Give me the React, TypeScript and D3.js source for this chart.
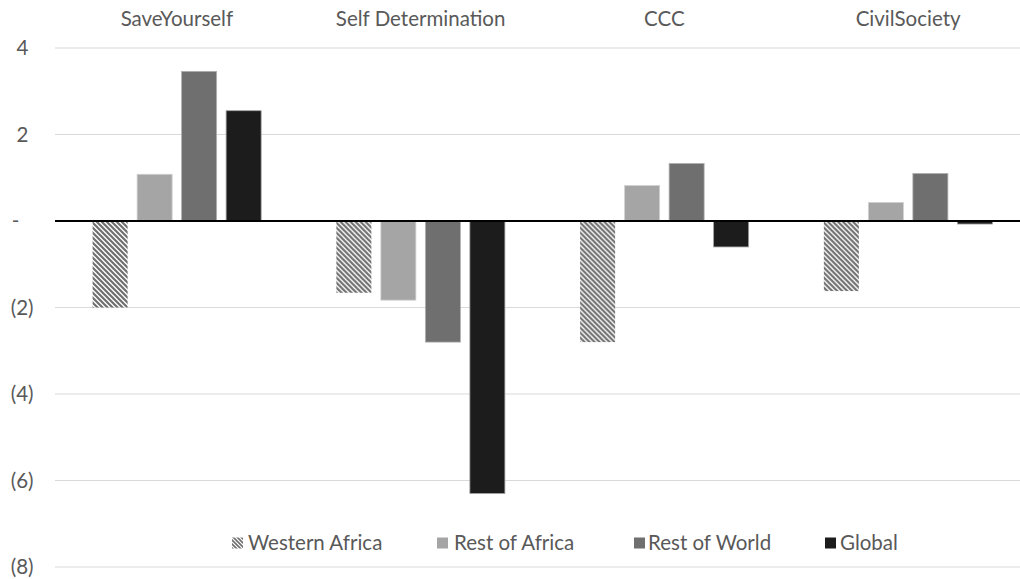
import React from "react";
import * as d3 from "d3";

const categories = ["SaveYourself", "Self Determination", "CCC", "CivilSociety"];
const seriesNames = ["Western Africa", "Rest of Africa", "Rest of World", "Global"];
const westernAfrica = [-2.0, -1.66, -2.8, -1.62];
const restOfAfrica = [1.08, -1.83, 0.82, 0.43];
const restOfWorld = [3.46, -2.8, 1.33, 1.1];
const globalVals = [2.55, -6.3, -0.6, -0.07];
const yTicks = [4, 2, 0, -2, -4, -6, -8];

const seriesValues = [westernAfrica, restOfAfrica, restOfWorld, globalVals];
const fills = ["url(#waPattern)", "#a5a5a5", "#6f6f6f", "#1c1c1c"];
const strokes = ["none", "#d0d0d0", "#b0b0b0", "#a0a0a0"];

const W = 1020;
const H = 579;
const left = 55;
const right = 1020;
const plotRight = 1030;
const FONT = "Lato, 'Open Sans', sans-serif";
const FS = 20.5;
const TXT = "#595959";

function fmt(v: number) {
  if (v === 0) return "-";
  if (v < 0) return `(${Math.abs(v)})`;
  return `${v}`;
}

export default function App() {
  const y = d3.scaleLinear().domain([-8, 4]).range([567, 48]);
  const x0 = d3.scaleBand<string>().domain(categories).range([left, plotRight]).paddingInner(0).paddingOuter(0);
  const x1 = d3
    .scaleBand<string>()
    .domain(seriesNames)
    .range([0, x0.bandwidth()])
    .paddingInner(9.5 / 44.5)
    .paddingOuter(0.845);

  const legendIconX = [232, 437, 634, 825];
  const legendTextX = [248, 454, 648, 840];

  return (
    <svg width={W} height={H} style={{ position: "absolute", left: 0, top: 0 }}>
      <defs>
        <pattern id="waPattern" patternUnits="userSpaceOnUse" width={5} height={5}>
          <rect width={5} height={5} fill="#ffffff" />
          <path d="M-1,-1 L6,6 M-1,4 L1,6 M4,-1 L6,1" stroke="#6f6f6f" strokeWidth={2.2} />
        </pattern>
        <pattern id="waLegend" patternUnits="userSpaceOnUse" width={4} height={4}>
          <rect width={4} height={4} fill="#ffffff" />
          <path d="M-1,-1 L5,5 M-1,3 L1,5 M3,-1 L5,1" stroke="#6f6f6f" strokeWidth={1.6} />
        </pattern>
      </defs>
      <rect width={W} height={H} fill="#ffffff" />
      {yTicks.map((t) => (
        <g key={t}>
          {t !== 0 && (
            <line x1={left} x2={right} y1={y(t)} y2={y(t)} stroke="#d9d9d9" strokeWidth={1.2} />
          )}
          <text
            x={t === 0 ? 15.5 : t > 0 ? 28.5 : 33.5}
            y={y(t)}
            dy="0.35em"
            textAnchor={t === 0 ? "middle" : "end"}
            fontFamily={FONT}
            fontSize={FS}
            fill={TXT}
          >
            {fmt(t)}
          </text>
        </g>
      ))}
      {categories.map((c, ci) => (
        <g key={c} transform={`translate(${x0(c)},0)`}>
          <text
            x={x0.bandwidth() / 2}
            y={26}
            textAnchor="middle"
            fontFamily={FONT}
            fontSize={FS}
            fill={TXT}
          >
            {c}
          </text>
          {seriesNames.map((s, si) => {
            const v = seriesValues[si][ci];
            const yTop = y(Math.max(0, v));
            const yBot = y(Math.min(0, v));
            return (
              <rect
                key={s}
                x={x1(s)}
                y={yTop}
                width={x1.bandwidth()}
                height={Math.max(1, yBot - yTop)}
                fill={fills[si]}
                stroke={strokes[si]}
                strokeWidth={0.8}
              />
            );
          })}
        </g>
      ))}
      <line x1={left} x2={right} y1={y(0)} y2={y(0)} stroke="#000000" strokeWidth={2.2} />
      {seriesNames.map((s, si) => (
        <g key={s}>
          <rect
            x={legendIconX[si]}
            y={543 - 5.5}
            width={11}
            height={11}
            fill={si === 0 ? "url(#waLegend)" : fills[si]}
          />
          <text x={legendTextX[si]} y={543} dy="0.35em" fontFamily={FONT} fontSize={FS} fill={TXT}>
            {s}
          </text>
        </g>
      ))}
    </svg>
  );
}
